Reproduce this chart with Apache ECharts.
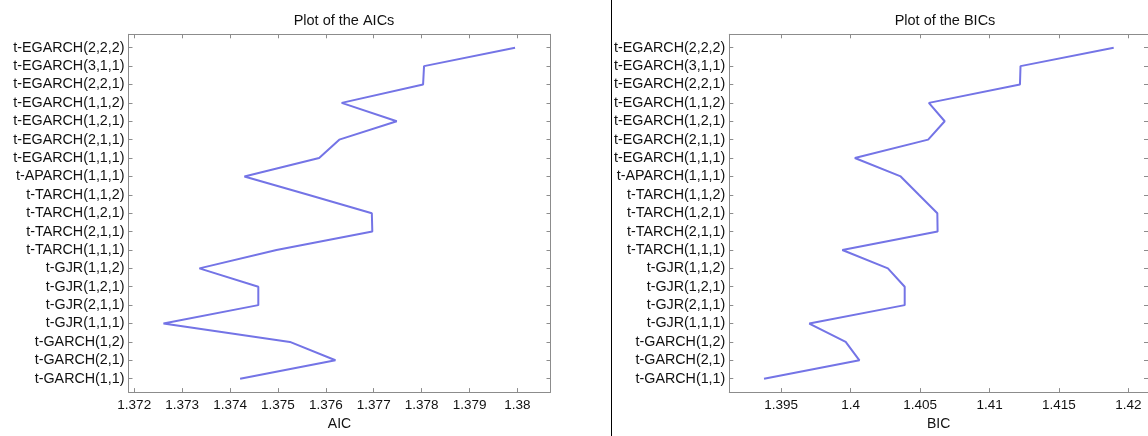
<!DOCTYPE html>
<html>
<head>
<meta charset="utf-8">
<title>AIC / BIC</title>
<script src="https://cdn.jsdelivr.net/npm/echarts@6/dist/echarts.min.js"></script>
<style>
    html, body { margin: 0; padding: 0; background: #fff; }
    #main { width: 1148px; height: 436px; }
</style>
</head>
<body>
<div id="main"></div>
<script>
// models, bottom to top (index 0 is the lowest row)
var models = ['t-GARCH(1,1)', 't-GARCH(2,1)', 't-GARCH(1,2)',
    't-GJR(1,1,1)', 't-GJR(2,1,1)', 't-GJR(1,2,1)', 't-GJR(1,1,2)',
    't-TARCH(1,1,1)', 't-TARCH(2,1,1)', 't-TARCH(1,2,1)', 't-TARCH(1,1,2)',
    't-APARCH(1,1,1)',
    't-EGARCH(1,1,1)', 't-EGARCH(2,1,1)', 't-EGARCH(1,2,1)', 't-EGARCH(1,1,2)',
    't-EGARCH(2,2,1)', 't-EGARCH(3,1,1)', 't-EGARCH(2,2,2)'];
var aicValues = [1.37421, 1.37620, 1.37525,
    1.37261, 1.37459, 1.37459, 1.37336,
    1.37497, 1.37697, 1.37696, 1.37563,
    1.37430,
    1.37586, 1.37628, 1.37748, 1.37633,
    1.37803, 1.37805, 1.37995];
var bicValues = [1.39376, 1.40063, 1.39964,
    1.39702, 1.40389, 1.40389, 1.40268,
    1.39940, 1.40626, 1.40624, 1.40491,
    1.40360,
    1.40030, 1.40558, 1.40677, 1.40563,
    1.41219, 1.41223, 1.41894];
var aicTicks = [1.372, 1.373, 1.374, 1.375, 1.376, 1.377, 1.378, 1.379, 1.38];
var bicTicks = [1.395, 1.4, 1.405, 1.41, 1.415, 1.42];
var rowTicks = [];
for (var r = 0; r < models.length; r++) {
    rowTicks.push(r);
}

var FONT = '"Liberation Sans", Arial, sans-serif';
var BORDER = '#8c8c8c';
var LINE_COLOR = '#7474e6';

//把数值和行号拼成点
function toPoints(values) {
    var pts = [];
    for (var i = 0; i < values.length; i++) {
        pts.push([values[i], i]);
    }
    return pts;
}

//数字标签 1.380 -> 1.38
function numLabel(v) {
    return String(parseFloat(v.toFixed(3)));
}

//x轴: 下面一条带标签, 上面一条只有刻度
function xAxes(gridIndex, min, max, ticks, name) {
    var bottom = {
        gridIndex: gridIndex, type: 'value', position: 'bottom',
        min: min, max: max,
        name: name, nameLocation: 'middle', nameGap: 20,
        nameTextStyle: { color: '#111', fontSize: 14, fontFamily: FONT },
        axisLine: { show: true, onZero: false, lineStyle: { color: BORDER, width: 1 } },
        axisTick: { show: true, inside: true, length: 4, customValues: ticks, lineStyle: { color: BORDER } },
        axisLabel: { show: true, customValues: ticks, formatter: numLabel, margin: 6,
            color: '#111', fontSize: 13.5, fontFamily: FONT },
        splitLine: { show: false }
    };
    var top = {
        gridIndex: gridIndex, type: 'value', position: 'top',
        min: min, max: max,
        axisLine: { show: true, onZero: false, lineStyle: { color: BORDER, width: 1 } },
        axisTick: { show: true, inside: true, length: 4, customValues: ticks, lineStyle: { color: BORDER } },
        axisLabel: { show: false },
        splitLine: { show: false }
    };
    return [bottom, top];
}

//y轴: 左边模型名, 右边只有刻度
function yAxes(gridIndex) {
    var left = {
        gridIndex: gridIndex, type: 'value', position: 'left',
        min: -0.73, max: 18.73,
        axisLine: { show: true, onZero: false, lineStyle: { color: BORDER, width: 1 } },
        axisTick: { show: true, inside: true, length: 4, customValues: rowTicks, lineStyle: { color: BORDER } },
        axisLabel: { show: true, customValues: rowTicks, margin: 4,
            formatter: function (v) { return models[Math.round(v)]; },
            color: '#111', fontSize: 14.3, fontFamily: FONT },
        splitLine: { show: false }
    };
    var right = {
        gridIndex: gridIndex, type: 'value', position: 'right',
        min: -0.73, max: 18.73,
        axisLine: { show: true, onZero: false, lineStyle: { color: BORDER, width: 1 } },
        axisTick: { show: true, inside: true, length: 4, customValues: rowTicks, lineStyle: { color: BORDER } },
        axisLabel: { show: false },
        splitLine: { show: false }
    };
    return [left, right];
}

var myChart = echarts.init(document.getElementById('main'), null, { renderer: 'canvas' });
var xs = xAxes(0, 1.37188, 1.38069, aicTicks, 'AIC').concat(xAxes(1, 1.39126, 1.42141, bicTicks, 'BIC'));
var ys = yAxes(0).concat(yAxes(1));

var option = {
    animation: false,
    backgroundColor: '#fff',
    title: [
        { text: 'Plot of the AICs', left: 339, top: 8, textAlign: 'center',
            textStyle: { color: '#111', fontSize: 14.5, fontWeight: 'normal', fontFamily: FONT } },
        { text: 'Plot of the BICs', left: 940, top: 8, textAlign: 'center',
            textStyle: { color: '#111', fontSize: 14.5, fontWeight: 'normal', fontFamily: FONT } }
    ],
    grid: [
        { left: 128.5, top: 34.3, width: 422, bottom: 38.3, containLabel: false },
        { left: 729.3, top: 34.3, right: -4, bottom: 37.5, containLabel: false }
    ],
    xAxis: xs,
    yAxis: ys,
    series: [
        { name: 'AIC', type: 'line', xAxisIndex: 0, yAxisIndex: 0,
            data: toPoints(aicValues), showSymbol: false,
            lineStyle: { color: LINE_COLOR, width: 2 } },
        { name: 'BIC', type: 'line', xAxisIndex: 2, yAxisIndex: 2,
            data: toPoints(bicValues), showSymbol: false,
            lineStyle: { color: LINE_COLOR, width: 2 } }
    ],
    graphic: [
        { type: 'line', shape: { x1: 611.5, y1: 0, x2: 611.5, y2: 436 },
            style: { stroke: '#000', lineWidth: 1 } }
    ]
};
myChart.setOption(option);
</script>
</body>
</html>
